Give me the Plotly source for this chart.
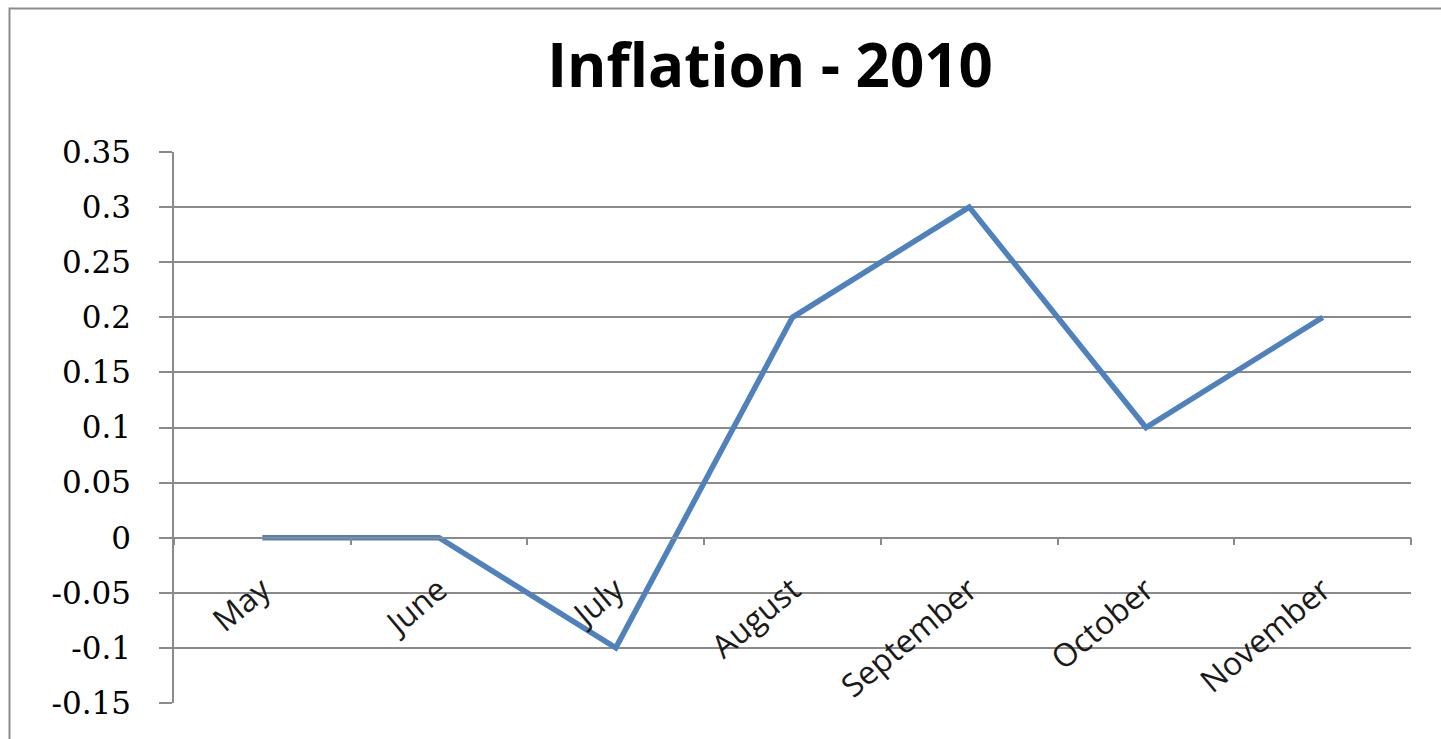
import plotly.graph_objects as go

months = ["May", "June", "July", "August", "September", "October", "November"]
inflation = [0, 0, -0.1, 0.2, 0.3, 0.1, 0.2]
y_tick_values = [0.35, 0.3, 0.25, 0.2, 0.15, 0.1, 0.05, 0, -0.05, -0.1, -0.15]
y_tick_labels = ["0.35", "0.3", "0.25", "0.2", "0.15", "0.1", "0.05", "0", "-0.05", "-0.1", "-0.15"]

W, H = 1441, 739
ML, MR, MT, MB = 174, 30, 152, 36
pw = W - ML - MR
ph = H - MT - MB

grid = "#8a8a8a"

fig = go.Figure()
fig.add_trace(go.Scatter(
    x=months, y=inflation, mode="lines",
    line=dict(color="#4F81BD", width=5.5),
    cliponaxis=False, showlegend=False, hoverinfo="x+y",
))

ymin, ymax = -0.15, 0.35
zero_pos = (0 - ymin) / (ymax - ymin)

fig.update_layout(
    width=W, height=H, autosize=False,
    margin=dict(l=ML, r=MR, t=MT, b=MB),
    paper_bgcolor="white", plot_bgcolor="white",
    title=dict(text="<b>Inflation - 2010</b>", x=770 / W, xref="container", xanchor="center",
               y=1 - 66 / H, yref="container", yanchor="middle",
               font=dict(family="Open Sans", size=60, color="#000000")),
    xaxis=dict(
        type="category", range=[-0.5, 6.5],
        showgrid=False, zeroline=False,
        showline=True, linecolor=grid, linewidth=1.5,
        ticks="outside", tickson="boundaries", ticklen=7, tickcolor=grid, tickwidth=1.5,
        tickangle=-40, anchor="free", position=zero_pos,
        tickfont=dict(family="Open Sans", size=32, color="#1a1a1a"),
        ticklabelstandoff=20, automargin=False,
    ),
    yaxis=dict(
        range=[ymin, ymax], tickvals=y_tick_values, ticktext=y_tick_labels,
        showgrid=True, gridcolor=grid, gridwidth=1.5, zeroline=False,
        showline=True, linecolor=grid, linewidth=1.5,
        ticks="outside", ticklen=13, tickcolor=grid, tickwidth=1.5,
        tickfont=dict(family="DejaVu Serif", size=31, color="#000000"),
        ticklabelstandoff=22, automargin=False,
    ),
    shapes=[dict(
        type="rect", xref="paper", yref="paper",
        x0=(9.5 - ML) / pw, x1=(W + 20 - ML) / pw,
        y0=(H - MB - (H + 20)) / ph, y1=(H - MB - 8.5) / ph,
        line=dict(color="#8c8c8c", width=2), fillcolor="rgba(0,0,0,0)", layer="below",
    )],
)

fig.write_html("out.html")
